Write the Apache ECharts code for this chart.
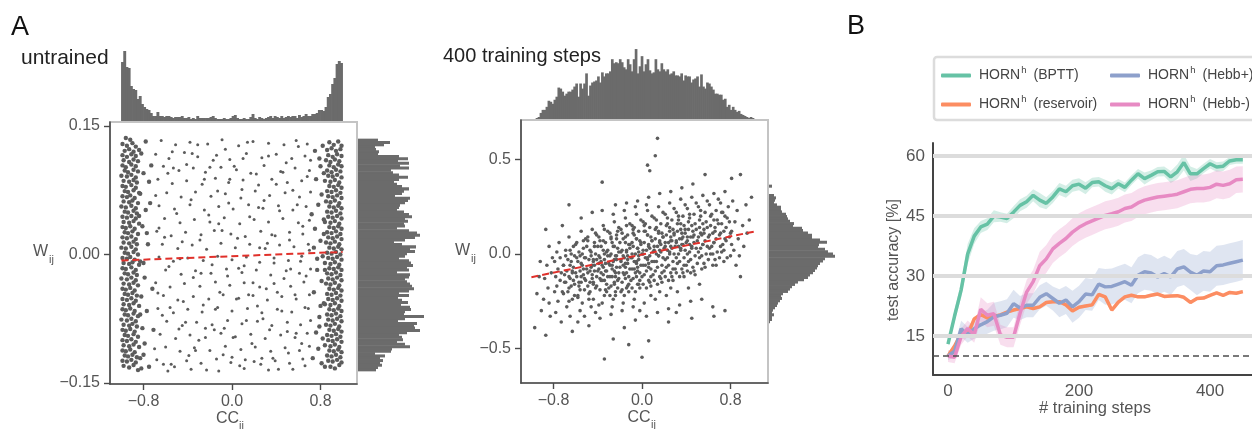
<!DOCTYPE html>
<html>
<head>
<meta charset="utf-8">
<script src="https://cdn.jsdelivr.net/npm/echarts@6/dist/echarts.min.js"></script>
<style>
  html, body { margin: 0; padding: 0; background: #fff; }
  #chart { width: 1252px; height: 429px; }
</style>
</head>
<body>
<div id="chart"></div>
<script>
// ---------- panel A, untrained  (pairs: CC_ij x100, W_ij x1000) ----------
const untrainedLeftBand = [
  [-96,136],[-92,134],
  [-99,129],[-95,127],[-90,130],[-87,126],[-97,121],[-93,123],[-89,120],[-84,122],
  [-99,116],[-95,114],[-91,117],[-87,115],[-98,110],[-93,108],[-89,111],[-85,109],
  [-99,104],[-96,102],[-91,105],[-87,103],[-97,98],[-94,96],[-89,99],[-85,97],
  [-100,92],[-95,91],[-91,93],[-87,90],[-98,86],[-93,85],[-89,87],[-86,84],
  [-99,80],[-96,79],[-91,81],[-87,78],[-97,74],[-94,73],[-89,75],[-84,72],
  [-99,68],[-95,67],[-92,69],[-88,66],[-98,62],[-93,61],[-90,63],[-85,60],
  [-100,56],[-96,55],[-91,57],[-87,54],[-97,50],[-94,49],[-89,51],[-86,48],
  [-99,44],[-95,43],[-91,45],[-87,42],[-98,38],[-93,37],[-89,39],[-84,36],
  [-99,32],[-96,31],[-92,33],[-88,30],[-97,26],[-94,25],[-90,27],[-85,24],
  [-99,20],[-95,19],[-91,21],[-87,18],[-98,14],[-93,13],[-89,15],[-86,12],
  [-100,8],[-96,7],[-91,9],[-87,6],[-97,2],[-94,1],[-89,3],[-85,0],
  [-99,-4],[-95,-5],[-92,-3],[-88,-6],[-98,-10],[-93,-11],[-90,-9],[-84,-12],
  [-99,-16],[-96,-17],[-91,-15],[-87,-18],[-97,-22],[-94,-23],[-89,-21],[-86,-24],
  [-100,-28],[-95,-29],[-91,-27],[-87,-30],[-98,-34],[-93,-35],[-89,-33],[-85,-36],
  [-99,-40],[-96,-41],[-92,-39],[-88,-42],[-97,-46],[-94,-47],[-90,-45],[-86,-48],
  [-99,-52],[-95,-53],[-91,-51],[-87,-54],[-98,-58],[-93,-59],[-89,-57],[-84,-60],
  [-99,-64],[-96,-65],[-92,-63],[-88,-66],[-97,-70],[-94,-71],[-89,-69],[-85,-72],
  [-100,-76],[-95,-77],[-91,-75],[-87,-78],[-98,-82],[-93,-83],[-90,-81],[-86,-84],
  [-99,-88],[-96,-89],[-92,-87],[-88,-90],[-97,-94],[-94,-95],[-89,-93],[-85,-96],
  [-99,-100],[-95,-101],[-91,-99],[-87,-102],[-98,-106],[-93,-107],[-89,-105],[-84,-108],
  [-99,-112],[-96,-113],[-92,-111],[-88,-114],[-97,-118],[-94,-119],[-90,-117],[-86,-120],
  [-99,-124],[-95,-125],[-91,-123],[-87,-126],[-98,-130],[-93,-132],[-89,-129],[-85,-135],
  [-82,118],[-80,95],[-83,71],[-78,52],[-81,33],[-76,12],[-83,-8],[-79,-27],[-82,-49],
  [-77,-66],[-81,-86],[-79,-104],[-83,-121],[-75,-131],[-73,104],[-72,-40],[-80,-10],
  [-74,60],[-78,132],[-82,-133],[-71,-88],[-75,85],[-84,45],[-83,-70],[-80,-117],[-77,25]
];
const untrainedRightBand = [
  [88,131],[92,128],[96,132],[99,127],[86,122],[90,124],[94,121],[98,123],
  [87,116],[91,114],[95,117],[99,115],[85,110],[89,108],[93,111],[97,109],
  [88,104],[92,102],[96,105],[99,103],[86,98],[90,96],[94,99],[98,97],
  [87,92],[91,91],[95,93],[99,90],[84,86],[89,85],[93,87],[97,84],
  [88,80],[92,79],[96,81],[99,78],[86,74],[90,73],[94,75],[98,72],
  [87,68],[91,67],[95,69],[99,66],[85,62],[89,61],[93,63],[97,60],
  [88,56],[92,55],[96,57],[99,54],[86,50],[90,49],[94,51],[98,48],
  [87,44],[91,43],[95,45],[99,42],[84,38],[89,37],[93,39],[97,36],
  [88,32],[92,31],[96,33],[99,30],[86,26],[90,25],[94,27],[98,24],
  [87,20],[91,19],[95,21],[99,18],[85,14],[89,13],[93,15],[97,12],
  [88,8],[92,7],[96,9],[99,6],[86,2],[90,1],[94,3],[98,0],
  [87,-4],[91,-5],[95,-3],[99,-6],[84,-10],[89,-11],[93,-9],[97,-12],
  [88,-16],[92,-17],[96,-15],[99,-18],[86,-22],[90,-23],[94,-21],[98,-24],
  [87,-28],[91,-29],[95,-27],[99,-30],[85,-34],[89,-35],[93,-33],[97,-36],
  [88,-40],[92,-41],[96,-39],[99,-42],[86,-46],[90,-47],[94,-45],[98,-48],
  [87,-52],[91,-53],[95,-51],[99,-54],[84,-58],[89,-59],[93,-57],[97,-60],
  [88,-64],[92,-65],[96,-63],[99,-66],[86,-70],[90,-71],[94,-69],[98,-72],
  [87,-76],[91,-77],[95,-75],[99,-78],[85,-82],[89,-83],[93,-81],[97,-84],
  [88,-88],[92,-89],[96,-87],[99,-90],[86,-94],[90,-95],[94,-93],[98,-96],
  [87,-100],[91,-101],[95,-99],[99,-102],[84,-106],[89,-107],[93,-105],[97,-108],
  [88,-112],[92,-113],[96,-111],[99,-114],[86,-118],[90,-119],[94,-117],[98,-120],
  [87,-124],[91,-125],[95,-123],[99,-126],[89,-131],[93,-133],[97,-129],
  [82,127],[79,112],[83,95],[76,88],[81,70],[78,58],[83,41],[75,30],[80,16],[82,-2],
  [77,-18],[81,-31],[74,-44],[83,-57],[79,-73],[76,-91],[82,-98],[78,-110],[81,-127],
  [73,-121],[80,-60],[84,-18],[77,-5],[72,47],[80,103],[75,121],[83,24],[79,-84],[84,-131],[74,8]
];
const untrainedMiddle = [
  [-64,133],[-51,128],[-38,131],[-22,129],[-9,134],[6,127],[19,132],[33,130],[47,128],[58,133],[68,129],
  [-69,117],[-57,112],[-43,119],[-31,114],[-14,116],[-2,111],[13,118],[27,113],[40,117],[54,112],[66,115],
  [-62,103],[-48,98],[-35,101],[-24,96],[-10,102],[4,99],[17,95],[29,104],[44,97],[57,101],[70,98],
  [-67,88],[-54,83],[-41,86],[-27,82],[-15,89],[-3,84],[10,87],[24,81],[36,88],[50,84],[63,86],
  [-59,72],[-46,67],[-33,73],[-19,68],[-6,71],[8,66],[21,74],[34,69],[48,72],[61,67],[71,73],
  [-66,57],[-52,53],[-38,58],[-25,52],[-12,56],[1,53],[15,58],[28,54],[42,57],[55,52],[67,56],
  [-61,42],[-47,37],[-34,41],[-20,38],[-7,43],[7,36],[20,41],[33,38],[46,42],[60,37],[70,40],
  [-68,27],[-55,22],[-42,26],[-28,23],[-16,28],[-1,24],[12,21],[26,27],[39,22],[52,26],[64,24],
  [-63,12],[-49,7],[-36,11],[-23,6],[-10,13],[3,8],[16,12],[30,7],[43,11],[56,9],[69,12],
  [-66,-3],[-53,-8],[-40,-4],[-26,-7],[-13,-2],[0,-6],[13,-3],[25,-9],[38,-4],[51,-7],[63,-2],
  [-60,-18],[-46,-23],[-33,-19],[-19,-22],[-5,-17],[9,-21],[22,-18],[35,-24],[49,-19],[61,-22],[71,-17],
  [-69,-33],[-56,-38],[-43,-34],[-29,-37],[-15,-32],[-2,-36],[11,-33],[25,-38],[38,-34],[53,-37],[65,-32],
  [-62,-48],[-49,-53],[-35,-49],[-21,-52],[-8,-47],[6,-51],[19,-48],[32,-53],[45,-49],[58,-52],[70,-47],
  [-67,-63],[-53,-68],[-40,-64],[-27,-67],[-13,-62],[0,-66],[14,-63],[27,-68],[41,-64],[54,-67],[66,-62],
  [-59,-78],[-45,-83],[-32,-79],[-18,-82],[-4,-77],[9,-81],[23,-78],[36,-83],[50,-79],[62,-82],[71,-77],
  [-65,-93],[-51,-98],[-38,-94],[-24,-97],[-10,-92],[3,-96],[17,-93],[30,-98],[44,-94],[57,-97],[68,-92],
  [-60,-108],[-47,-113],[-34,-109],[-20,-112],[-6,-107],[8,-111],[21,-108],[35,-113],[48,-109],[61,-112],[70,-107],
  [-68,-123],[-55,-128],[-41,-124],[-28,-127],[-14,-122],[-1,-126],[12,-123],[26,-128],[39,-124],[52,-127],[64,-122],
  [-58,-136],[-37,-134],[-12,-136],[11,-133],[33,-135],[55,-134]
];
const untrainedScattered = [
  [-70,-110],[-66,31],[-63,-71],[-58,95],[-57,-14],[-54,120],[-52,-131],[-50,48],[-48,-87],[-45,15],
  [-44,-55],[-41,105],[-39,-118],[-37,64],[-35,-27],[-31,128],[-30,-100],[-29,17],[-26,-59],[-25,88],
  [-23,-135],[-21,46],[-18,-12],[-17,110],[-16,-88],[-13,74],[-11,-44],[-9,28],[-8,-117],[-6,123],
  [-4,-25],[-3,60],[1,-97],[2,103],[4,-52],[5,19],[7,-130],[9,76],[11,-13],[13,-77],
  [14,131],[16,44],[18,-104],[19,-33],[22,94],[23,-60],[25,8],[27,-121],[29,63],[31,-40],
  [33,115],[34,-88],[36,23],[38,-10],[40,82],[42,-134],[43,51],[45,-66],[47,-28],[49,107],
  [51,-115],[52,17],[55,75],[57,-47],[58,-92],[60,126],[62,-8],[64,33],[66,-130],[68,91],
  [69,-63],[70,5],[-69,69],[-67,-45],[-62,-128],[-61,20],[-56,-62],[-53,101],[-47,-5],[-42,-79],
  [-36,118],[-33,-112],[-28,-22],[-24,-86],[-20,102],[-15,-64],[-12,36],[-7,-86],[-2,88],[0,-120],
  [6,-16],[10,112],[15,-47],[20,-125],[24,55],[28,-75],[32,13],[37,-121],[41,-44],[46,96],
  [50,-90],[53,-17],[59,58],[63,-104],[67,-25],[71,110]
];
const untrainedFitCC = [-1, 1];
const untrainedFitW = [-0.007, 0.003];
// marginal histograms (counts)
const untrainedTopHist = [
  59,70,54,53,35,32,31,22,25,17,14,12,11,8,
  5,5,9,5,5,4,5,5,4,3,4,4,4,5,3,3,4,2,3,2,5,3,3,3,3,3,4,5,3,2,
  2,2,3,2,2,3,5,6,3,2,2,3,2,2,4,7,3,2,4,3,2,3,4,5,3,5,4,3,5,3,
  4,5,4,5,5,3,6,4,5,
  7,5,5,7,7,8,11,11,10,14,24,27,37,43,57,60,58
];
const untrainedSideHist = [ // from W = +0.135 (top) down to -0.135
  20,32,26,17,18,21,20,41,50,40, 51,42,51,33,35,41,50,41,36,39,
  44,51,46,44,37,52,50,47,42,41, 39,46,51,54,47,50,46,47,39,51,
  59,62,57,47,36,44,58,52,57,49, 47,41,51,53,55,49,51,39,52,51,
  47,49,52,54,56,51,41,51,40,44, 50,43,52,53,47,46,66,47,40,59,
  56,57,62,49,41,44,45,39,47,52, 34,33,17,27,22,25,22,24,20,18
];

// ---------- panel A, 400 training steps ----------
const trainedPts = [
  [-97,-390],[-95,-210],[-93,-120],[-92,-40],[-91,-300],
  [-89,-240],[-88,-130],[-87,-430],[-86,-60],[-85,-180],[-84,40],[-83,-330],[-82,-100],[-81,-20],[-84,-260],[-87,130],
  [-79,-200],[-79,-40],[-78,-310],[-78,-120],[-77,10],[-77,-170],[-76,-80],[-76,-250],[-75,60],[-74,-140],[-74,-20],
  [-73,-360],[-73,-100],[-72,150],[-71,-210],[-71,-60],
  [-69,-150],[-69,20],[-68,-280],[-68,-90],[-67,-30],[-67,-200],[-66,90],[-66,-120],[-65,-60],[-65,-330],
  [-64,-170],[-64,0],[-63,-240],[-63,-100],[-62,40],[-62,-140],[-61,-10],[-61,-220],[-66,260],[-63,-410],
  [-59,-120],[-59,60],[-58,-230],[-58,-40],[-57,-170],[-57,10],[-56,-300],[-56,-90],[-55,120],[-55,-150],[-54,-60],
  [-54,-260],[-53,30],[-53,-110],[-52,-190],[-52,-20],[-51,80],[-51,-140],[-58,-360],[-55,190],[-53,-80],[-56,-10],[-52,-330],
  [-49,-100],[-49,70],[-48,-210],[-48,-30],[-47,-150],[-47,20],[-46,-280],[-46,-70],[-45,130],[-45,-130],[-44,-40],
  [-44,-240],[-43,40],[-43,-90],[-42,-180],[-42,0],[-41,100],[-41,-120],[-48,-380],[-45,220],[-43,-60],[-46,-10],
  [-42,-310],[-44,-160],[-47,-90],[-41,-30],
  [-39,-80],[-39,90],[-38,-190],[-38,-20],[-37,-140],[-37,40],[-36,-260],[-36,-60],[-35,150],[-35,-110],[-34,-30],
  [-34,-220],[-33,60],[-33,-90],[-32,-160],[-32,10],[-31,120],[-31,-120],[-38,-340],[-36,380],[-34,-556],[-33,-50],
  [-39,-270],[-37,-100],[-35,20],[-32,-200],[-31,-10],[-36,230],[-34,-140],[-38,70],
  [-29,-60],[-29,110],[-28,-170],[-28,0],[-27,-120],[-27,60],[-26,-240],[-26,-40],[-25,170],[-25,-90],[-24,-10],
  [-24,-200],[-23,80],[-23,-70],[-22,-140],[-22,30],[-21,140],[-21,-100],[-28,-320],[-26,-450],[-24,260],[-23,-30],
  [-29,-220],[-27,-80],[-25,40],[-22,-180],[-21,10],[-26,210],[-24,-120],[-28,90],[-27,-280],[-23,-10],[-25,-150],
  [-19,-40],[-19,130],[-18,-150],[-18,20],[-17,-100],[-17,80],[-16,-220],[-16,-20],[-15,190],[-15,-70],[-14,10],
  [-14,-180],[-13,100],[-13,-50],[-12,-120],[-12,50],[-11,160],[-11,-80],[-18,-300],[-16,-390],[-14,270],[-13,-10],
  [-19,-200],[-17,-60],[-15,60],[-12,-160],[-11,30],[-16,230],[-14,-100],[-18,110],[-17,-260],[-13,-30],[-15,-130],[-12,-480],
  [-9,-20],[-9,150],[-8,-130],[-8,40],[-7,-80],[-7,100],[-6,-200],[-6,0],[-5,210],[-5,-50],[-4,30],[-4,-160],
  [-3,120],[-3,-30],[-2,-100],[-2,70],[-1,180],[-1,-60],[-8,-280],[-6,-350],[-4,280],[-3,10],[-9,-180],[-7,-40],
  [-5,80],[-2,-140],[-1,50],[-6,250],[-4,-90],[-8,130],[-7,-240],[-3,-10],[-5,-120],[0,-547],[-2,-300],[-9,60],
  [1,0],[1,170],[2,-110],[2,60],[3,-60],[3,120],[4,-180],[4,20],[5,230],[5,-30],[6,50],[6,-140],[7,140],[7,-10],
  [8,-80],[8,90],[9,200],[9,-40],[2,-260],[4,-330],[6,300],[7,30],[1,-160],[3,-20],[5,100],[8,-120],[9,70],[4,260],
  [6,-70],[2,150],[5,470],[7,440],[6,-460],[8,-220],
  [11,20],[11,190],[12,-90],[12,80],[13,-40],[13,140],[14,-160],[14,40],[15,250],[15,-10],[16,70],[16,-120],
  [17,160],[17,10],[18,-60],[18,110],[19,220],[19,-20],[12,-240],[14,-310],[16,320],[17,50],[11,-140],[13,0],
  [15,120],[18,-100],[19,90],[14,612],[12,520],[16,-200],
  [21,40],[21,210],[22,-70],[22,100],[23,-20],[23,160],[24,-140],[24,60],[25,270],[25,10],[26,90],[26,-100],
  [27,180],[27,30],[28,-40],[28,130],[29,240],[29,0],[22,-220],[24,-290],[26,330],[27,70],[21,-120],[23,20],
  [25,140],[28,-80],[29,110],[24,-360],[26,-180],
  [31,60],[31,220],[32,-50],[32,120],[33,0],[33,180],[34,-120],[34,80],[35,290],[35,30],[36,110],[36,-80],
  [37,200],[37,50],[38,-20],[38,150],[39,260],[39,20],[32,-200],[34,-270],[36,350],[37,90],[31,-100],[33,40],
  [35,160],[38,-60],[39,130],[31,-310],
  [41,70],[41,240],[42,-40],[42,130],[43,10],[43,190],[44,-100],[44,90],[45,300],[45,40],[46,120],[46,-70],
  [47,210],[47,60],[48,-10],[48,160],[49,270],[49,30],[42,-180],[44,-250],[46,370],[47,100],[41,-90],[43,50],[45,-340],
  [51,90],[51,250],[52,-20],[52,140],[53,30],[53,200],[54,-80],[54,100],[55,310],[55,50],[56,130],[56,-50],
  [57,220],[57,70],[58,0],[58,170],[59,280],[59,40],[52,-160],[54,-240],[57,420],[53,110],
  [61,100],[61,260],[62,0],[62,150],[63,40],[63,210],[64,-60],[64,110],[65,320],[65,60],[66,140],[66,-30],
  [67,230],[67,80],[68,10],[68,180],[69,290],[64,-280],[65,-330],
  [71,110],[71,270],[72,10],[72,160],[73,50],[73,220],[74,-40],[74,120],[75,330],[76,70],[77,190],[77,-20],
  [78,250],[79,90],[75,-300],
  [81,120],[82,280],[83,20],[84,170],[85,-60],[86,230],[87,80],[88,-10],[89,420],[81,400],[89,-120],
  [91,150],[92,40],[94,260],[95,110],[97,180],[99,300]
];
const trainedCore = [
  [-70,-150],[-71,-60],[-69,-10],[-72,-200],[-70,-110],
  [-65,-130],[-64,-40],[-66,-180],[-65,20],[-63,-90],[-66,-250],
  [-60,-100],[-59,-20],[-61,-160],[-60,50],[-58,-220],[-62,-70],
  [-55,-120],[-54,0],[-56,-190],[-55,-50],[-53,70],[-57,-150],
  [-50,-80],[-49,-170],[-51,-20],[-50,40],[-48,-240],[-52,-130],[-49,90],
  [-45,-60],[-44,-150],[-46,10],[-45,-110],[-43,60],[-47,-200],[-44,-30],
  [-40,-90],[-39,-10],[-41,-170],[-40,40],[-38,-130],[-42,110],[-39,-50],
  [-35,-70],[-34,0],[-36,-140],[-35,70],[-33,-190],[-37,-40],[-34,130],
  [-30,-50],[-29,-120],[-31,20],[-30,-180],[-28,80],[-32,-90],[-29,-10],
  [-25,-30],[-24,-100],[-26,40],[-25,-160],[-23,100],[-27,-60],[-24,-220],
  [-20,-70],[-19,10],[-21,-130],[-20,60],[-18,-190],[-22,120],[-19,-30],
  [-15,-50],[-14,20],[-16,-110],[-15,90],[-13,-170],[-17,-10],[-14,150],
  [-10,-20],[-9,-80],[-11,50],[-10,-140],[-8,110],[-12,-200],[-9,0],
  [-5,-40],[-4,30],[-6,-100],[-5,80],[-3,-160],[-7,140],[-4,-70],
  [0,0],[1,-60],[-1,60],[0,-120],[2,120],[-2,-180],[1,20],
  [5,-20],[6,40],[4,-90],[5,100],[7,-150],[3,160],[6,-50],
  [10,10],[11,-40],[9,70],[10,-110],[12,130],[8,-170],[11,40],
  [15,-10],[16,60],[14,-70],[15,110],[17,-130],[13,180],[16,20],
  [20,30],[21,-30],[19,90],[20,-90],[22,150],[18,-150],[21,60],
  [25,0],[26,70],[24,-60],[25,120],[27,-120],[23,190],[26,40],
  [30,40],[31,-20],[29,100],[30,-80],[32,160],[28,-140],[31,70],
  [35,20],[36,80],[34,-40],[35,130],[37,-100],[33,200],[36,50],
  [40,60],[41,0],[39,110],[40,-60],[42,170],[38,-120],[41,90],
  [45,30],[46,90],[44,-30],[45,150],[47,-90],[43,210],
  [50,70],[51,10],[49,130],[50,-50],[52,180],[48,-110],
  [55,50],[56,110],[54,-10],[55,160],[57,-70],[53,230],
  [60,90],[61,30],[59,140],[60,-30],[62,200],
  [65,60],[66,120],[64,0],[65,180],[67,-60],
  [70,100],[71,40],[69,160],[70,-20],[72,220],
  [75,80],[76,140],[74,20],[75,200],
  [80,110],[81,50],[79,170],[80,-10]
];
const trainedFitCC = [-1.0, 1.01];
const trainedFitW = [-0.123, 0.118];
const trainedTopHist = [
  1,2,6,9,9,12,18,17,15,19, 22,31,30,27,23,25,27,27,29,32,
  35,22,35,30,35,45,23,33,36,37, 38,42,36,46,42,45,45,47,59,55,
  56,55,59,56,51,49,59,54,47,59, 69,45,52,62,47,54,59,48,45,46,
  59,49,47,55,49,47,49,44,45,47, 43,43,42,45,38,43,42,42,36,39,
  40,42,32,44,32,30,36,35,32,29, 25,25,24,24,19,20,12,14,9,12,
  9,7,8,5,4,3,2,1,2,1
];
const trainedSideHist = [ // from W = +0.36 (top) down to -0.36
  3,0,0,0,5,7,6,5,8,12, 12,13,17,18,19,21,25,24,33,34,
  39,43,43,51,58,50,49,56,59,64, 66,56,54,51,49,48,46,44,41,39,
  35,29,26,23,21,19,14,12,13,11, 9,8,6,4,3,5,3,3,1
];

// ---------- panel B ----------
const steps = [0,10,20,30,40,50,60,70,80,90,100,110,120,130,140,150,160,170,180,190,200,210,220,
  230,240,250,260,270,280,290,300,310,320,330,340,350,360,370,380,390,400,410,420,430,440,450];
const bptt = [13,20,26.5,35.5,40,42.3,43,45,44.8,44.4, 46,47.7,48.6,50.2,49,48.2,49.8,51.8,51.1,52.6,
  53,52,53.4,53.6,52.6,51.9,53.1,52.2,54,55.6, 54.4,55.2,56.1,56.2,54.8,56.1,58.4,55.6,55.6,56.9,
  58.1,57.3,57.5,58.8,59.1,59.1];
const reservoir = [10,12.5,15.6,15.3,19.3,20.4,19.5,19.9,20.3,21, 21.5,21.9,22.3,21.9,22.3,23.4,23.6,23.6,22.8,21.3,
  22.2,22.5,22.8,25.4,24.8,21.5,23.5,24.8,25.2,24.8, 24.8,25.2,25.5,24.9,25,25.1,24.7,23.4,24.4,24.5,
  25.2,25.8,25.2,25.9,25.7,26.1];
const hebbPlus = [10,11.2,16.8,15.3,16.8,17.8,18.6,19.8,20.2,20.7, 23.1,22,22.7,22.7,24.7,25.6,24.4,23.2,24,22.3,
  23.6,25.5,25.3,28,27.3,27.4,28,28.6,27.7,30.2, 31.1,30.8,29.8,30.6,29.8,31.8,32.3,31,30.2,31.3,
  31.1,32.6,32.8,33.2,33.6,34];
const hebbMinus = [10,9.7,14.8,16.9,15.3,21.7,20.2,20.6,15.3,14.7, 14.7,20.7,26,28.6,32.6,34.3,36.8,38.2,39.4,41,
  42.2,43.1,43.8,44.5,45.2,45.6,46.1,46.9,47.3,48.3, 49,49.4,49.8,50,50.2,50.5,51.1,51.7,51.9,51.9,
  52.2,53,52.7,53.1,54.1,54.2];
// half widths of the shaded bands
const bpttErr = [0.5,1.5,2,2.5,2,1.5,1.5,1.5,1.2,1.2, 1.5,1.5,1.5,1.5,1.8,1.5,1.5,1.5,1.5,1.5,
  1.5,1.5,1.2,1.2,1.5,1.5,1.2,1.2,1.2,1.2, 1.5,1.2,1.2,1.2,1.5,1.8,2,1.8,1.2,1.2, 1.2,1.2,1.2,1,1,1];
const reservoirErr = [0.4,0.4,0.4,0.4,0.4,0.4,0.4,0.4,0.4,0.4, 0.4,0.4,0.4,0.4,0.4,0.4,0.4,0.4,0.4,0.4,
  0.4,0.4,0.4,0.4,0.4,0.4,0.4,0.4,0.4,0.4, 0.4,0.4,0.4,0.4,0.4,0.4,0.4,0.4,0.4,0.4, 0.4,0.4,0.4,0.4,0.4,0.4];
const hebbPlusErr = [1,1.5,2,2,2.5,3,3,3.5,3.5,3.5, 3.5,3,3,3,3,3,3,3.5,3.5,4,
  4,4,4,4,4.5,4.5,4.5,4.5,4.5,4.5, 4.5,4.5,4.5,4.5,4.5,4.5,4.5,4.5,5,5, 5,5,5,5,5,5];
const hebbMinusErr = [1.5,1.5,2,2,2,3,3,3,2.5,2.5, 2.5,3,3,3,3.5,3.5,3.5,3.5,3.5,3.5,
  3.5,3.5,3.5,3.5,3.5,3.5,3.5,3.5,3.5,3.5, 3.5,3.5,3.5,3.5,3.5,3.5,3.5,3.5,3.5,3.5, 3.5,3.5,3.5,3.5,3.3,3.3];
const runNames = ['BPTT', 'reservoir', 'Hebb+', 'Hebb-'];
const runColors = ['#66c2a5', '#fc8d62', '#8da0cb', '#e78ac3'];
const accTicks = [15, 30, 45, 60];
const stepTicks = [0, 200, 400];
const chanceLevel = 10;

const FONT = '"Liberation Sans", Arial, sans-serif';
const axisColor = '#4a4a4a';
const labelColor = '#555';
const dotColor = '#5c5c5c';
const barColor = '#6b6b6b';

const fmt = dec => v => (v < -1e-9 ? '\u2212' : '') + Math.abs(v).toFixed(dec);

function scatterAxis(gridIndex, min, max, ticks, dec) {
  return {
    gridIndex, type: 'value', min, max,
    axisLine: { show: true, onZero: false, lineStyle: { color: axisColor, width: 1.6 } },
    axisTick: { show: true, customValues: ticks, length: 6, lineStyle: { color: axisColor, width: 1.4 } },
    axisLabel: { customValues: ticks, formatter: fmt(dec), fontSize: 16, color: labelColor, fontFamily: FONT, margin: 10 },
    splitLine: { show: false }
  };
}
const hiddenCat = (gridIndex, n, inverse) => ({ gridIndex, type: 'category', show: false, inverse: !!inverse,
  data: Array.from({ length: n }, (_, i) => i) });
const hiddenVal = (gridIndex, max) => ({ gridIndex, type: 'value', show: false, min: 0, max, splitLine: { show: false } });

const toPts = arr => arr.map(p => [p[0] / 100, p[1] / 1000]);

const grids = [
  { left: 110, top: 122, width: 247, height: 262, show: true, borderColor: '#c4c4c4', borderWidth: 2 },   // 0 untrained scatter
  { left: 121.4, top: 45, width: 221.2, height: 76 },                                                     // 1 untrained top hist
  { left: 358, top: 139, width: 68, height: 232 },                                                        // 2 untrained side hist
  { left: 521, top: 120, width: 247, height: 263, show: true, borderColor: '#c4c4c4', borderWidth: 2 },   // 3 trained scatter
  { left: 536, top: 45, width: 218, height: 74 },                                                         // 4 trained top hist
  { left: 769, top: 185, width: 70, height: 138 },                                                        // 5 trained side hist
  { left: 933, top: 143, width: 319, height: 232 }                                                        // 6 panel B
];

const xAxes = [
  scatterAxis(0, -1.103, 1.13, [-0.8, 0, 0.8], 1),
  hiddenCat(1, untrainedTopHist.length),
  hiddenVal(2, 68),
  scatterAxis(3, -1.094, 1.139, [-0.8, 0, 0.8], 1),
  hiddenCat(4, trainedTopHist.length),
  hiddenVal(5, 70),
  {
    gridIndex: 6, type: 'value', min: -22.9, max: 464,
    axisLine: { show: true, onZero: false, lineStyle: { color: '#444', width: 2 } },
    axisTick: { show: false },
    axisLabel: { customValues: stepTicks, fontSize: 17, color: labelColor, fontFamily: FONT, margin: 8 },
    splitLine: { show: false }
  }
];
const yAxes = [
  scatterAxis(0, -0.1512, 0.1547, [-0.15, 0, 0.15], 2),
  hiddenVal(1, 76),
  hiddenCat(2, untrainedSideHist.length, true),
  scatterAxis(3, -0.683, 0.709, [-0.5, 0, 0.5], 1),
  hiddenVal(4, 73),
  hiddenCat(5, trainedSideHist.length, true),
  {
    gridIndex: 6, type: 'value', min: 5.25, max: 63.3,
    axisLine: { show: true, onZero: false, lineStyle: { color: '#444', width: 2 } },
    axisTick: { show: false },
    axisLabel: { customValues: accTicks, fontSize: 17, color: labelColor, fontFamily: FONT, margin: 8 },
    splitLine: { show: false }
  }
];

const series = [];
// scatter + regression lines
series.push({ type: 'scatter', xAxisIndex: 0, yAxisIndex: 0, symbolSize: 4.4, silent: true,
  itemStyle: { color: dotColor, opacity: 1 },
  data: toPts(untrainedLeftBand.concat(untrainedRightBand)) });
series.push({ type: 'scatter', xAxisIndex: 0, yAxisIndex: 0, symbolSize: 3, silent: true,
  itemStyle: { color: dotColor, opacity: 1 },
  data: toPts(untrainedMiddle.concat(untrainedScattered)) });
series.push({ type: 'line', xAxisIndex: 0, yAxisIndex: 0, symbol: 'none', silent: true, z: 5,
  lineStyle: { color: '#e0302a', width: 2, type: [7, 4] },
  data: untrainedFitCC.map((c, i) => [c, untrainedFitW[i]]) });
series.push({ type: 'scatter', xAxisIndex: 3, yAxisIndex: 3, symbolSize: 3.6, silent: true,
  itemStyle: { color: dotColor, opacity: 1 }, data: toPts(trainedPts.concat(trainedCore)) });
series.push({ type: 'line', xAxisIndex: 3, yAxisIndex: 3, symbol: 'none', silent: true, z: 5,
  lineStyle: { color: '#e0302a', width: 2, type: [7, 4] },
  data: trainedFitCC.map((c, i) => [c, trainedFitW[i]]) });

// marginal histograms: one rect per bin, placed by the category/value axes,
// widened by a fraction of a pixel so neighbouring bins touch without hairline gaps
function histSeries(xi, yi, counts, horizontal) {
  return {
    type: 'custom', xAxisIndex: xi, yAxisIndex: yi, silent: true,
    data: counts.map((c, i) => horizontal ? [c, i] : [i, c]),
    renderItem: (params, api) => {
      if (horizontal) {
        const end = api.coord([api.value(0), api.value(1)]);
        const base = api.coord([0, api.value(1)]);
        const h = api.size([0, 1])[1];
        return { type: 'rect', shape: { x: base[0], y: end[1] - h / 2 - 0.35, width: end[0] - base[0], height: h + 0.7 },
          style: { fill: barColor } };
      }
      const top = api.coord([api.value(0), api.value(1)]);
      const base = api.coord([api.value(0), 0]);
      const w = api.size([1, 0])[0];
      return { type: 'rect', shape: { x: top[0] - w / 2 - 0.35, y: top[1], width: w + 0.7, height: base[1] - top[1] },
        style: { fill: barColor } };
    }
  };
}
series.push(histSeries(1, 1, untrainedTopHist, false));
series.push(histSeries(2, 2, untrainedSideHist, true));
series.push(histSeries(4, 4, trainedTopHist, false));
series.push(histSeries(5, 5, trainedSideHist, true));

// panel B: gridlines and chance level
series.push({ type: 'line', xAxisIndex: 6, yAxisIndex: 6, data: [], z: 1, silent: true,
  markLine: { symbol: 'none', silent: true, animation: false, label: { show: false },
    data: accTicks.map(v => ({ yAxis: v, lineStyle: { color: '#dcdcdc', width: 4, type: 'solid' } }))
      .concat([{ yAxis: chanceLevel, lineStyle: { color: '#4d4d4d', width: 1.6, type: [6, 4] } }]) } });

const means = [bptt, reservoir, hebbPlus, hebbMinus];
const errs = [bpttErr, reservoirErr, hebbPlusErr, hebbMinusErr];
const alpha = c => 'rgba(' + parseInt(c.slice(1, 3), 16) + ',' + parseInt(c.slice(3, 5), 16) + ',' + parseInt(c.slice(5, 7), 16) + ',0.28)';
// shaded bands: mean +/- half width, drawn as one polygon per run
runNames.forEach((n, k) => {
  const m = means[k], e = errs[k];
  series.push({ type: 'custom', xAxisIndex: 6, yAxisIndex: 6, silent: true, z: 2, data: [[steps[0], m[0]]],
    renderItem: (params, api) => {
      const upper = steps.map((s, i) => api.coord([s, m[i] + e[i]]));
      const lower = steps.map((s, i) => api.coord([s, m[i] - e[i]])).reverse();
      return { type: 'polygon', shape: { points: upper.concat(lower) }, style: { fill: alpha(runColors[k]) } };
    } });
});
runNames.forEach((n, k) => {
  series.push({ name: n, type: 'line', xAxisIndex: 6, yAxisIndex: 6, symbol: 'none', z: 3, color: runColors[k],
    lineStyle: { width: 3.5, color: runColors[k] }, data: steps.map((s, i) => [s, means[k][i]]) });
});

const legendBase = {
  orient: 'vertical', top: 60, itemGap: 8, itemWidth: 30, itemHeight: 4, icon: 'roundRect',
  selectedMode: false,
  formatter: n => '{f|HORN}{h|h}{t|(' + n + ')}',
  textStyle: { fontFamily: FONT, rich: {
    f: { fontSize: 14, color: '#444', fontFamily: FONT, padding: [0, 0, 0, 3], lineHeight: 18 },
    h: { fontSize: 9.5, color: '#444', fontFamily: FONT, padding: [0, 0, 11, 1], lineHeight: 18 },
    t: { fontSize: 14, color: '#444', fontFamily: FONT, padding: [0, 0, 0, 7], lineHeight: 18 }
  } }
};

const txt = (text, x, y, size, extra) => ({ type: 'text', x, y, silent: true,
  style: Object.assign({ text, fontSize: size, fontFamily: FONT, fill: '#444', textVerticalAlign: 'middle' }, extra || {}) });

const chart = echarts.init(document.getElementById('chart'), null, { renderer: 'canvas' });
chart.setOption({
  animation: false,
  backgroundColor: '#fff',
  grid: grids,
  xAxis: xAxes,
  yAxis: yAxes,
  legend: [
    Object.assign({}, legendBase, { left: 936, data: ['BPTT', 'reservoir'] }),
    Object.assign({}, legendBase, { left: 1105, data: ['Hebb+', 'Hebb-'] })
  ],
  graphic: [
    { type: 'rect', silent: true, z: -1, shape: { x: 934, y: 57, width: 330, height: 63, r: 3 },
      style: { fill: '#fff', stroke: '#dcdcdc', lineWidth: 2.5 } },
    txt('A', 11, 28, 27, { fill: '#111' }),
    txt('B', 847, 27, 27, { fill: '#111' }),
    txt('untrained', 21, 58, 21, { fill: '#222' }),
    txt('400 training steps', 443, 56, 20, { fill: '#222' }),
    txt('W', 33, 252, 16, { fill: labelColor }),
    txt('ij', 49, 260, 11, { fill: labelColor }),
    txt('W', 455, 251, 16, { fill: labelColor }),
    txt('ij', 471, 259, 11, { fill: labelColor }),
    txt('CC', 227.5, 419, 16, { fill: labelColor, textAlign: 'center' }),
    txt('ij', 239, 426, 11, { fill: labelColor }),
    txt('CC', 639, 418, 16, { fill: labelColor, textAlign: 'center' }),
    txt('ij', 651, 425, 11, { fill: labelColor }),
    { type: 'text', x: 894, y: 260, rotation: Math.PI / 2, silent: true,
      style: { text: 'test accuracy [%]', fontSize: 16, fontFamily: FONT, fill: labelColor,
        textAlign: 'center', textVerticalAlign: 'middle' } },
    txt('# training steps', 1095, 408, 16.5, { fill: labelColor, textAlign: 'center' })
  ],
  series
});
</script>
</body>
</html>
